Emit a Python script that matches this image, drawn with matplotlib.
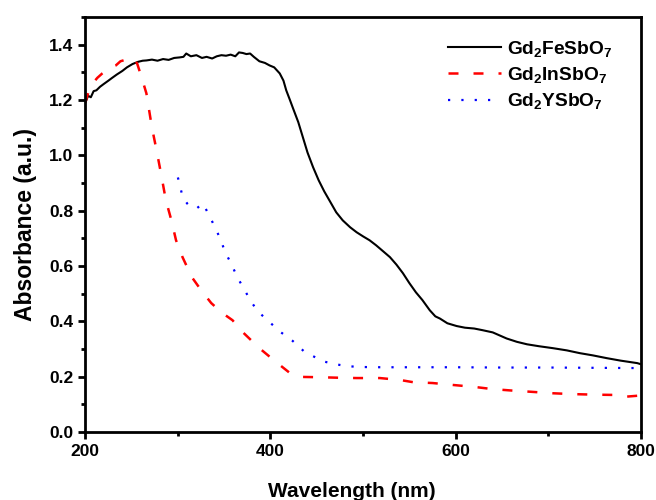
import matplotlib
matplotlib.use("Agg")
import matplotlib.pyplot as plt
from matplotlib.ticker import MultipleLocator

plt.rcParams['font.family'] = ['Liberation Sans', 'DejaVu Sans']
plt.rcParams['font.weight'] = 'bold'
plt.rcParams['mathtext.fontset'] = 'custom'
plt.rcParams['mathtext.rm'] = 'Liberation Sans:bold'
plt.rcParams['mathtext.bf'] = 'Liberation Sans:bold'
plt.rcParams['mathtext.default'] = 'bf'

# Gd2FeSbO7 (black, solid)
fe_wl = [200, 203, 206, 209, 212, 216, 220, 225, 229, 234, 240, 245, 251, 257, 262, 266,
         272, 278, 284, 290, 296, 302, 306, 309, 314, 320, 326, 331, 337, 342, 347, 352,
         357, 362, 366, 370, 374, 378, 382, 388, 394, 399, 404, 410, 414, 417, 421, 424,
         430, 435, 440, 446, 452, 458, 464, 471, 478, 486, 493, 500, 507, 514, 521, 529,
         536, 543, 550, 557, 564, 572, 578, 583, 591, 601, 610, 620, 629, 640, 655, 666,
         677, 690, 705, 720, 734, 748, 763, 778, 790, 796, 800]
fe_abs = [1.19, 1.215, 1.21, 1.232, 1.235, 1.248, 1.258, 1.27, 1.28, 1.292, 1.305, 1.318, 1.33, 1.338, 1.342, 1.343,
          1.346, 1.342, 1.348, 1.345, 1.352, 1.354, 1.356, 1.368, 1.358, 1.362, 1.352, 1.356, 1.35, 1.358, 1.362, 1.36,
          1.364, 1.358, 1.372, 1.37, 1.366, 1.368, 1.356, 1.34, 1.334, 1.325, 1.318, 1.296, 1.27, 1.235, 1.2, 1.173,
          1.12, 1.065, 1.01, 0.957, 0.91, 0.87, 0.835, 0.794, 0.765, 0.74, 0.722, 0.707, 0.693, 0.675, 0.655, 0.632,
          0.605, 0.574, 0.538, 0.505, 0.477, 0.44, 0.418, 0.41, 0.393, 0.383, 0.377, 0.374, 0.368, 0.36, 0.338, 0.326,
          0.317, 0.31, 0.303, 0.295, 0.285, 0.277, 0.267, 0.258, 0.252, 0.249, 0.245]

# Gd2InSbO7 (red, dashed)
in_wl = [200, 204, 208, 213, 218, 223, 228, 233, 238, 243, 248, 252, 256, 261, 266, 272,
         277, 282, 287, 293, 298, 305, 315, 325, 336, 348, 359, 370, 388, 406, 421, 435,
         453, 475, 493, 518, 540, 554, 575, 597, 620, 640, 660, 683, 705, 726, 750, 770,
         785, 800]
in_abs = [1.19, 1.235, 1.26, 1.28, 1.295, 1.307, 1.318, 1.325, 1.34, 1.345, 1.354, 1.35, 1.332, 1.28, 1.224, 1.1,
          1.018, 0.93, 0.838, 0.765, 0.693, 0.632, 0.56, 0.513, 0.466, 0.43, 0.404, 0.361, 0.303, 0.253, 0.213, 0.199,
          0.198, 0.196, 0.195, 0.195, 0.188, 0.18, 0.177, 0.17, 0.163, 0.155, 0.15, 0.145, 0.14, 0.137, 0.135, 0.134,
          0.128, 0.132]

# Gd2YSbO7 (blue, dotted)
y_wl = [300, 303, 305, 310, 315, 321, 327, 334, 340, 346, 351, 358, 364, 371, 378, 386,
        399, 411, 424, 436, 450, 456, 470, 483, 496, 520, 560, 600, 650, 700, 750, 800]
y_abs = [0.92, 0.88, 0.85, 0.826, 0.81, 0.81, 0.826, 0.782, 0.74, 0.697, 0.65, 0.606, 0.56, 0.52, 0.477, 0.437,
         0.397, 0.361, 0.329, 0.292, 0.267, 0.256, 0.245, 0.238, 0.235, 0.234, 0.234, 0.234, 0.233, 0.233, 0.232, 0.231]

fig = plt.figure(figsize=(6.56, 5.0), dpi=100)
ax = fig.add_axes([0.13, 0.136, 0.847, 0.83])

ax.plot(fe_wl, fe_abs, color='black', lw=1.5, label=r'Gd$_2$FeSbO$_7$')
ax.plot(in_wl, in_abs, color='#ff0000', lw=1.8, linestyle=(0, (4, 6)), label=r'Gd$_2$InSbO$_7$')
ax.plot(y_wl, y_abs, color='#0000ff', lw=1.6, linestyle=(0, (1, 5)), label=r'Gd$_2$YSbO$_7$')

ax.set_xlim(200, 800)
ax.set_ylim(0, 1.5)
ax.set_yticks([0.0, 0.2, 0.4, 0.6, 0.8, 1.0, 1.2, 1.4])
ax.set_xticks([200, 400, 600, 800])
ax.xaxis.set_minor_locator(MultipleLocator(100))
ax.yaxis.set_minor_locator(MultipleLocator(0.1))
ax.tick_params(which='major', direction='out', length=5, width=2, labelsize=12.5)
ax.tick_params(which='minor', direction='out', length=3, width=2)
for s in ax.spines.values():
    s.set_linewidth(2)

ax.set_xlabel('Wavelength (nm)', fontsize=15, fontweight='bold')
ax.xaxis.set_label_coords(0.48, -0.12)
ax.set_ylabel('Absorbance (a.u.)', fontsize=16.5, fontweight='bold')
ax.yaxis.set_label_coords(-0.086, 0.5)

ax.legend(loc='upper left', bbox_to_anchor=(0.652, 0.948), frameon=False, fontsize=13.8,
          handlelength=2.8, handletextpad=0.3, labelspacing=0.33, borderpad=0, borderaxespad=0)

fig.savefig('out.png', dpi=100)
